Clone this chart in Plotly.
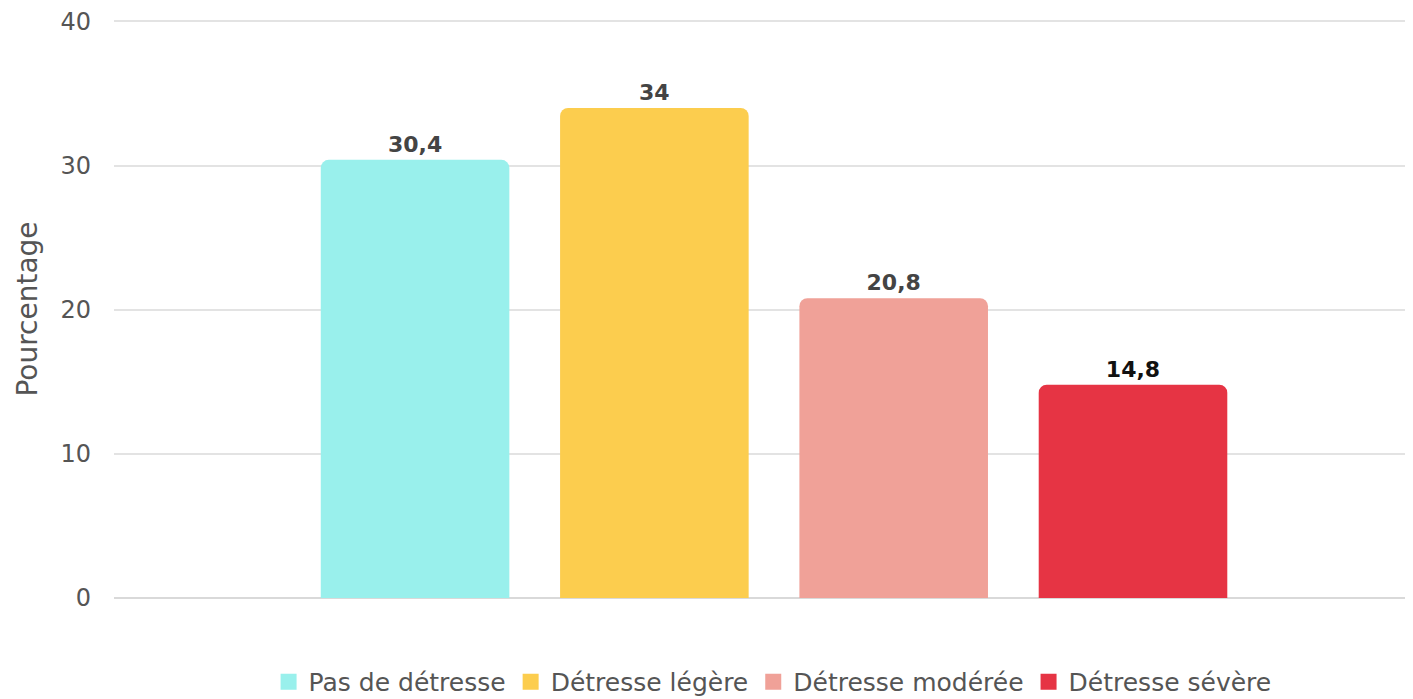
import plotly.graph_objects as go

categories = ["Pas de détresse", "Détresse légère", "Détresse modérée", "Détresse sévère"]
values = [30.4, 34, 20.8, 14.8]
labels = ["30,4", "34", "20,8", "14,8"]
colors = ["#99F0EC", "#FCCD4E", "#F0A198", "#E63444"]
label_colors = ["#444444", "#444444", "#444444", "#111111"]
y_ticks = [0, 10, 20, 30, 40]

FONT = "DejaVu Sans, sans-serif"

fig = go.Figure()
for cat, val, lab, col, lc in zip(categories, values, labels, colors, label_colors):
    fig.add_trace(go.Bar(
        x=[cat], y=[val], name=cat, legendgroup=cat, showlegend=False,
        marker=dict(color=col, cornerradius=8, line=dict(width=0)),
        text=[lab], textposition="outside", cliponaxis=False,
        textfont=dict(family=FONT, size=22, color=lc, weight="bold"),
        hoverinfo="skip",
    ))
    # legend entry with a larger square swatch
    fig.add_trace(go.Scatter(
        x=[None], y=[None], mode="markers", name=cat, legendgroup=cat,
        marker=dict(symbol="square", size=26, color=col), hoverinfo="skip",
    ))

# the page body adds an 8px margin, so the figure is sized to fit the window
fig.update_layout(
    width=1405, height=691,
    margin=dict(l=106, r=0, t=12, b=101, autoexpand=False),
    paper_bgcolor="white", plot_bgcolor="white",
    barmode="overlay", bargap=0.212,
    font=dict(family=FONT, color="#555555", size=22),
    showlegend=True,
    legend=dict(orientation="h", x=0.507, xanchor="center", y=-0.1055, yanchor="top",
                font=dict(size=25, color="#555555"), itemsizing="trace", traceorder="normal"),
    xaxis=dict(showticklabels=False, showgrid=False, zeroline=False, showline=False,
               range=[-1.258, 4.17], fixedrange=True, automargin=False),
    yaxis=dict(range=[0, 40.1], tickvals=y_ticks, showgrid=True, gridcolor="#E3E3E3", gridwidth=2,
               zeroline=True, zerolinecolor="#D9D9D9", zerolinewidth=2, automargin=False,
               ticklabeloverflow="allow",
               tickfont=dict(size=24, color="#555555"), ticklabelstandoff=22,
               title=dict(text="Pourcentage", font=dict(size=28, color="#555555"), standoff=14)),
)

fig.write_html("out.html")
